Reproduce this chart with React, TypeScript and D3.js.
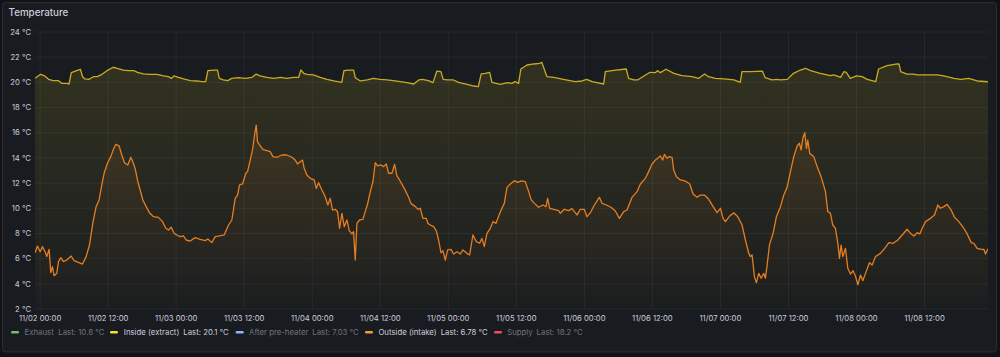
import React from "react";
import * as d3 from "d3";

// Hours since 2023-11-02 00:00 (UTC) and temperatures in °C
const insideHours = [-0.9,0.1,0.8,1.5,2.3,3.2,3.8,4.7,5.1,5.5,6.2,7.1,7.5,7.9,8.6,9.4,10.1,10.9,11.8,12.9,13.6,14.7,15.6,16.5,17.2,18.2,19.4,20.6,21.8,22.6,23.2,23.6,24.4,25.3,26.5,27.7,28.5,29.2,29.6,30.6,31.3,31.6,32.3,33.1,33.8,35.0,36.2,37.4,38.1,38.8,40.0,41.2,42.4,43.5,44.7,45.6,46.0,46.5,47.1,48.2,49.4,50.6,51.8,53.2,53.6,54.4,55.3,55.6,56.5,57.7,58.8,60.0,61.2,62.3,63.5,64.7,65.9,66.8,67.4,68.5,69.3,70.0,70.7,71.1,71.8,72.9,73.8,75.3,76.5,77.3,77.8,78.5,79.3,79.7,81.2,82.4,83.2,83.8,84.4,84.8,85.9,87.1,88.1,88.5,89.4,90.6,92.3,94.4,95.6,96.4,97.4,99.4,99.7,101.5,103.4,103.8,104.7,105.4,106.5,107.6,108.5,108.9,109.4,110.4,111.8,113.2,115.0,116.2,117.2,117.9,119.1,120.6,122.4,123.5,123.8,125.3,127.4,127.9,129.1,130.0,130.6,131.8,132.9,134.1,135.0,135.9,137.6,139.4,140.0,141.2,141.8,142.2,142.9,144.0,145.0,145.9,147.4,147.9,149.4,151.2,151.5,151.8,152.9,154.1,154.7,156.5,158.2,159.4,161.2,162.4,163.8,165.3,167.2];
const insideTemps = [20.32,20.64,20.51,20.24,20.14,20.14,19.92,19.92,19.87,20.77,20.9,21.04,20.45,20.27,20.24,20.45,20.45,20.64,20.93,21.2,21.12,20.98,20.93,20.93,20.8,20.67,20.64,20.64,20.51,20.45,20.32,20.51,20.4,20.27,20.14,20.11,20.06,20.06,20.93,20.98,20.98,20.32,20.19,20.14,20.32,20.37,20.32,20.4,20.66,20.51,20.4,20.32,20.4,20.32,20.4,20.4,20.98,20.72,20.64,20.59,20.4,20.24,20.11,20.0,20.93,20.98,20.98,20.37,20.11,20.19,20.32,20.24,20.19,20.14,20.06,19.98,19.87,20.19,20.24,20.14,19.98,20.9,20.85,20.24,20.19,20.19,20.0,19.84,19.71,19.66,20.67,20.72,20.8,20.0,19.84,19.98,19.92,20.06,19.92,21.06,21.38,21.46,21.51,21.59,20.45,20.4,20.24,20.06,20.11,20.24,20.06,19.87,20.85,20.98,21.06,20.32,20.19,20.19,20.51,20.8,20.77,20.93,20.77,21.04,20.72,20.53,20.45,20.32,20.66,20.45,20.32,20.27,20.19,20.0,20.85,20.85,20.9,20.37,20.19,20.24,20.19,20.24,20.72,20.98,21.12,20.93,20.72,20.53,20.59,20.4,20.85,20.8,20.32,20.51,20.45,20.24,20.06,21.06,21.33,21.46,21.46,20.85,20.66,20.66,20.59,20.59,20.59,20.51,20.32,20.24,20.32,20.11,20.05];

const outsideHours = [-0.88,-0.47,0,0.41,0.88,1.18,1.59,1.88,2.18,2.47,2.94,3.24,3.65,4.12,4.71,5.47,6.0,6.76,7.47,8.12,8.71,9.29,9.88,10.41,10.88,11.29,11.88,12.47,12.94,13.35,13.94,14.41,14.88,15.47,16.0,16.35,16.76,17.24,17.65,18.12,18.71,19.29,20.0,20.88,21.59,22.18,22.65,23.12,23.65,24.12,24.71,25.29,25.76,26.47,27.35,28.24,29.12,29.59,30.29,30.88,31.65,32.47,33.24,33.82,34.41,34.82,35.18,35.71,36.29,36.59,37.06,37.47,37.82,38.12,38.35,38.71,39.29,40.0,40.59,41.06,41.76,42.65,43.53,44.41,45.0,45.41,45.88,46.29,46.59,47.06,47.65,48.35,48.71,49.12,49.71,50.29,50.76,51.18,51.59,52.06,52.47,52.82,53.24,53.65,54.12,54.53,55.0,55.29,55.59,55.88,56.35,56.94,57.35,57.76,58.24,58.71,59.12,59.53,60.12,60.59,61.06,61.47,62.06,62.53,62.94,63.41,64.24,65.0,65.41,66.18,66.65,67.06,67.53,68.12,68.41,68.82,69.41,69.88,70.29,70.71,71.06,71.47,71.88,72.47,72.94,73.53,74.12,74.59,75.29,75.76,76.35,76.94,77.53,77.94,78.35,78.82,79.41,79.88,80.41,81.18,81.88,82.35,82.94,83.65,84.24,84.82,85.59,86.18,86.59,87.18,87.94,88.71,89.24,89.53,89.88,90.59,91.47,91.76,92.47,93.24,93.82,94.71,95.29,96.0,96.47,97.06,97.76,98.65,99.12,99.88,100.71,101.47,102.18,102.94,103.53,104.41,105.29,105.88,106.76,107.35,107.94,108.53,108.94,109.41,109.82,110.12,110.59,111.0,111.47,111.76,112.24,112.94,113.53,114.0,114.59,115.18,115.88,116.47,117.18,117.94,118.71,119.41,120.0,120.47,120.88,121.65,122.35,123.06,123.82,124.41,125.0,125.29,125.59,126.0,126.35,126.76,127.18,127.65,127.94,128.24,128.65,129.29,129.88,130.59,131.18,131.76,132.35,132.94,133.53,133.94,134.24,134.53,134.88,135.18,135.41,135.76,136.47,137.06,137.76,138.53,138.94,139.41,139.82,140.29,140.71,141.0,141.29,141.59,142.06,142.47,142.94,143.41,143.82,144.24,144.71,145.12,145.59,146.29,146.76,147.35,148.24,149.12,149.71,150.47,151.29,152.06,152.94,153.53,154.12,154.71,155.18,155.59,156.18,157.06,157.76,158.35,158.82,159.41,160.0,160.71,161.29,162.06,162.82,163.53,164.24,164.71,165.29,166.0,166.47,166.76,167.2];
const outsideTemps = [6.47,7.0,6.55,6.95,6.55,6.16,6.74,4.89,5.36,4.65,4.83,5.76,6.08,5.76,5.89,6.21,5.84,5.71,5.57,6.16,7.08,8.8,10.13,10.66,11.85,12.78,13.57,14.1,14.68,15.08,14.95,14.23,13.62,13.44,14.05,13.7,13.17,12.11,11.45,10.66,10.13,9.65,9.33,9.28,8.94,8.41,8.27,8.49,8.01,7.88,7.75,7.8,7.48,7.4,7.67,7.53,7.43,7.56,7.27,7.75,7.8,7.88,8.67,9.07,10.79,11.05,11.85,11.93,12.78,12.91,13.83,14.63,15.82,16.61,15.29,15.03,14.68,14.58,14.5,14.1,14.05,14.23,14.23,14.05,13.83,13.52,13.7,13.83,13.17,12.64,12.38,12.25,11.58,12.03,11.45,10.92,10.26,10.79,9.86,9.92,9.73,8.41,9.6,8.54,9.07,8.22,7.96,8.14,5.89,8.8,9.07,9.12,9.73,10.34,11.32,12.11,13.62,13.36,13.44,13.31,13.52,12.78,12.78,13.49,12.57,12.25,11.58,10.87,10.39,10.13,9.92,10.0,9.2,9.2,8.8,8.67,8.54,8.22,7.48,6.47,6.63,5.89,6.69,6.74,6.37,6.55,6.37,6.69,6.42,6.29,7.88,7.35,7.22,7.61,6.95,8.01,8.41,8.94,8.8,9.73,10.39,11.66,11.93,12.19,12.06,12.17,12.11,11.32,10.71,10.39,10.08,10.26,10.13,10.79,10.0,9.92,9.81,9.6,9.92,9.81,9.97,9.47,9.92,9.92,9.33,9.65,10.26,10.87,10.39,10.26,10.08,9.78,9.2,9.73,9.86,10.87,11.32,11.93,12.38,12.91,13.52,13.83,13.97,14.15,13.83,14.28,13.97,14.1,14.05,13.04,12.51,12.25,12.19,12.11,11.93,11.13,10.87,11.05,11.05,10.71,10.13,9.65,10.0,9.2,8.94,9.39,9.65,9.33,8.67,7.48,6.42,6.16,6.29,4.57,4.09,4.83,4.44,4.83,4.44,5.49,7.08,8.01,9.33,10.13,11.05,11.66,12.91,14.1,14.95,15.16,14.63,15.56,16.0,14.76,15.42,14.36,14.1,13.31,12.51,11.32,9.73,9.6,8.67,8.41,7.22,6.02,7.08,6.16,6.82,5.23,4.78,5.04,4.62,3.91,4.7,4.25,4.83,5.68,5.49,6.16,6.42,6.9,7.27,7.22,7.48,7.88,8.33,8.01,7.8,8.06,7.96,8.41,8.94,9.2,9.47,10.26,10.0,10.13,10.31,9.86,9.28,8.94,8.49,7.96,7.27,7.22,6.82,6.74,6.74,6.37,6.78];

const yTicks = [2, 4, 6, 8, 10, 12, 14, 16, 18, 20, 22, 24];

const legendNames = ["Exhaust", "Inside (extract)", "After pre-heater", "Outside (intake)", "Supply"];
const legendLast = ["10.8", "20.1", "7.03", "6.78", "18.2"];
const legendColors = ["#73BF69", "#FADE2A", "#8AB8FF", "#FF9830", "#F2495C"];
const legendVisible = [false, true, false, true, false];

const BASE = Date.UTC(2023, 10, 2);
const toDate = (h: number) => new Date(BASE + h * 3600e3);

const W = 1000;
const H = 357;
const PL = 35, PR = 988, PT = 32, PB = 309;

// layout positions of legend pieces (marker x, name x, value x)
const legendMarkerX = [11, 110, 235.7, 365, 494];
const legendNameX = [24.5, 123.8, 249, 378.4, 507.2];
const legendValueX = [58.3, 183.3, 312.3, 440.7, 536.6];

export default function App() {
  const x = d3.scaleUtc().domain([toDate(-0.9), toDate(167.2)]).range([PL, PR]);
  const y = d3.scaleLinear().domain([2, 24]).range([PB, PT]);
  const xTicks = x.ticks(d3.utcHour.every(12) as any);
  const fmt = d3.utcFormat("%m/%d %H:%M");

  const inside = insideHours.map((h, i) => ({ t: toDate(h), v: insideTemps[i] }));
  const outside = outsideHours.map((h, i) => ({ t: toDate(h), v: outsideTemps[i] }));

  const line = d3.line<{ t: Date; v: number }>().x((d) => x(d.t)).y((d) => y(d.v));
  const area = d3.area<{ t: Date; v: number }>().x((d) => x(d.t)).y0(PB).y1((d) => y(d.v));

  const font = "Inter, 'Noto Sans', sans-serif";
  const textCol = "#ccccdc";
  const dimCol = "rgba(204,204,220,0.5)";

  return (
    <svg width={W} height={H} style={{ position: "fixed", left: 0, top: 0, display: "block" }} fontFamily={font}>
      <defs>
        <linearGradient id="gY" x1="0" y1={PT} x2="0" y2={PB} gradientUnits="userSpaceOnUse">
          <stop offset="0" stopColor="#FADE2A" stopOpacity={0.13} />
          <stop offset="1" stopColor="#FADE2A" stopOpacity={0.01} />
        </linearGradient>
        <linearGradient id="gO" x1="0" y1={PT} x2="0" y2={PB} gradientUnits="userSpaceOnUse">
          <stop offset="0" stopColor="#FF9830" stopOpacity={0.14} />
          <stop offset="1" stopColor="#FF9830" stopOpacity={0.0} />
        </linearGradient>
        <clipPath id="clip">
          <rect x={PL} y={PT} width={PR - PL} height={PB - PT} />
        </clipPath>
      </defs>
      <rect x={0} y={0} width={W} height={H} fill="#111217" />
      <rect x={2.5} y={2.5} width={994} height={349.5} rx={3} fill="#181b1f" stroke="rgba(204,204,220,0.12)" />
      <text x={8.5} y={16.3} fill={textCol} fontSize={9.8} fontWeight={500}>Temperature</text>

      {/* grid */}
      {yTicks.map((t) => (
        <line key={"gy" + t} x1={PL} x2={PR} y1={y(t)} y2={y(t)} stroke="rgba(204,204,220,0.07)" />
      ))}
      {xTicks.map((t, i) => (
        <line key={"gx" + i} x1={x(t)} x2={x(t)} y1={PT} y2={PB} stroke="rgba(204,204,220,0.07)" />
      ))}

      {/* y labels */}
      {yTicks.map((t) => (
        <text key={"ly" + t} x={31} y={y(t)} dy="0.35em" textAnchor="end" fill={textCol} fontSize={7.7}>
          {`${t} °C`}
        </text>
      ))}
      {/* x labels */}
      {xTicks.map((t, i) => (
        <text key={"lx" + i} x={x(t)} y={320.5} textAnchor="middle" fill={textCol} fontSize={7.7}>
          {fmt(t)}
        </text>
      ))}

      <g clipPath="url(#clip)">
        <path d={area(inside) || ""} fill="url(#gY)" />
        <path d={line(inside) || ""} fill="none" stroke="#c9ab22" strokeWidth={1.3} strokeLinejoin="round" />
        <path d={area(outside) || ""} fill="url(#gO)" />
        <path d={line(outside) || ""} fill="none" stroke="#e67d20" strokeWidth={1.3} strokeLinejoin="round" />
      </g>

      {/* legend */}
      {legendNames.map((n, i) => (
        <g key={"lg" + i}>
          <rect x={legendMarkerX[i]} y={331} width={8} height={2.4} rx={1.2} fill={legendColors[i]} />
          <text x={legendNameX[i]} y={335} fill={legendVisible[i] ? textCol : dimCol} fontSize={7.8}>
            {n}
          </text>
          <text x={legendValueX[i]} y={335} fill={legendVisible[i] ? textCol : dimCol} fontSize={7.8}>
            {`Last: ${legendLast[i]} °C`}
          </text>
        </g>
      ))}
    </svg>
  );
}
